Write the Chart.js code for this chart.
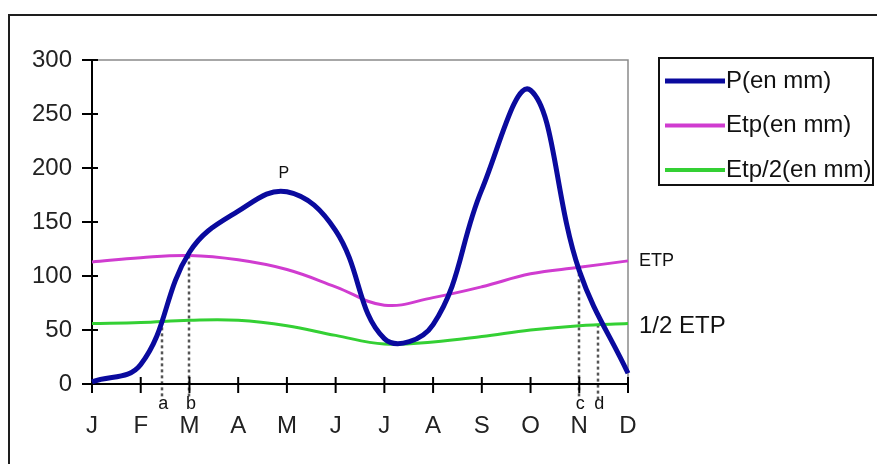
<!DOCTYPE html>
<html>
<head>
<meta charset="utf-8">
<script src="https://cdn.jsdelivr.net/npm/chart.js@4.4.1/dist/chart.umd.min.js"></script>
<style>
  html, body { margin: 0; padding: 0; background: #fff; }
  #wrap { width: 877px; height: 464px; }
</style>
</head>
<body>
<div id="wrap"><canvas id="graphe"></canvas></div>
<script>
// Données (mm)
const mois = ['J', 'F', 'M', 'A', 'M', 'J', 'J', 'A', 'S', 'O', 'N', 'D'];
const pluie = [2, 18, 122, 160, 178, 142, 42, 55, 180, 272, 105, 10];
const etp = [113, 117, 119, 115, 106, 90, 73, 80, 90, 102, 108, 114];
const demiEtp = [56, 57, 59, 59, 54, 45, 37, 39, 44, 50, 54, 56];
const graduationsY = [0, 50, 100, 150, 200, 250, 300];
const nomsSeries = ['P(en mm)', 'Etp(en mm)', 'Etp/2(en mm)'];
const moisEtiquetteP = 4; // le "P" est posé au-dessus du sommet de mai

// Repères a, b, c, d (position en mois, valeur du croisement)
const repereLettres = ['a', 'b', 'c', 'd'];
const repereMois = [1.43, 2, 9.99, 10.38];
const repereValeur = [58, 119, 108, 55];

const couleurs = ['#0a0a9e', '#d03cd0', '#34d034'];
const epaisseurs = [5, 3, 3];
const police = 'Liberation Sans, Arial, sans-serif';

const decor = {
  id: 'decor',
  beforeDatasetsDraw(chart) {
    const { ctx, chartArea: a, scales: { x, y } } = chart;
    const trait = (x1, y1, x2, y2) => { ctx.beginPath(); ctx.moveTo(x1, y1); ctx.lineTo(x2, y2); ctx.stroke(); };
    ctx.save();
    // cadre extérieur
    ctx.strokeStyle = '#1e1e1e'; ctx.lineWidth = 2;
    ctx.beginPath(); ctx.moveTo(9, 464); ctx.lineTo(9, 15); ctx.lineTo(877, 15); ctx.stroke();
    // bord gris de la zone de tracé
    ctx.strokeStyle = '#8a8a8a'; ctx.lineWidth = 1.5;
    ctx.beginPath(); ctx.moveTo(a.left, a.top); ctx.lineTo(a.right, a.top); ctx.lineTo(a.right, a.bottom); ctx.stroke();
    // pointillés verticaux
    ctx.strokeStyle = '#555'; ctx.lineWidth = 2.5; ctx.setLineDash([3, 3]);
    repereMois.forEach((m, i) => {
      const px = Math.round(x.getPixelForValue(m));
      trait(px, y.getPixelForValue(repereValeur[i]), px, a.bottom + 15);
    });
    ctx.setLineDash([]);
    // axes et graduations
    ctx.strokeStyle = '#000'; ctx.lineWidth = 2;
    ctx.beginPath(); ctx.moveTo(a.left, a.top); ctx.lineTo(a.left, a.bottom); ctx.lineTo(a.right, a.bottom); ctx.stroke();
    graduationsY.forEach(v => { const py = y.getPixelForValue(v); trait(a.left - 10, py, a.left + 6, py); });
    mois.forEach((m, i) => { const px = x.getPixelForValue(i); trait(px, a.bottom - 7, px, a.bottom + 9); });
    ctx.restore();
  },
  afterDraw(chart) {
    const { ctx, chartArea: a, scales: { x, y } } = chart;
    ctx.save();
    ctx.fillStyle = '#111';
    // lettres des repères
    ctx.font = '18px ' + police; ctx.textAlign = 'center'; ctx.textBaseline = 'alphabetic';
    repereLettres.forEach((l, i) => ctx.fillText(l, x.getPixelForValue(repereMois[i]) + 1.5, 409));
    // étiquettes des courbes
    ctx.font = '16px ' + police;
    ctx.fillText('P', x.getPixelForValue(moisEtiquetteP) - 3, y.getPixelForValue(pluie[moisEtiquetteP]) - 14);
    ctx.textAlign = 'left'; ctx.textBaseline = 'middle';
    ctx.font = '18px ' + police;
    ctx.fillText('ETP', a.right + 11, y.getPixelForValue(etp[etp.length - 1]));
    ctx.font = '24px ' + police;
    ctx.fillText('1/2 ETP', a.right + 11, y.getPixelForValue(demiEtp[demiEtp.length - 1]) + 3);
    // légende
    ctx.strokeStyle = '#111'; ctx.lineWidth = 2;
    ctx.strokeRect(659, 58, 214, 127);
    nomsSeries.forEach((n, i) => {
      const ly = 81 + i * 44.5;
      ctx.strokeStyle = couleurs[i]; ctx.lineWidth = i === 0 ? 5 : 4;
      ctx.beginPath(); ctx.moveTo(665, ly); ctx.lineTo(725, ly); ctx.stroke();
      ctx.fillText(n, 726, ly);
    });
    ctx.restore();
  }
};

const series = [pluie, etp, demiEtp];

new Chart(document.getElementById('graphe'), {
  type: 'line',
  data: {
    labels: mois,
    datasets: series.map((d, i) => ({
      label: nomsSeries[i],
      data: d,
      borderColor: couleurs[i],
      borderWidth: epaisseurs[i],
      pointRadius: 0,
      tension: 0.4,
      fill: false
    }))
  },
  options: {
    responsive: true,
    maintainAspectRatio: false,
    animation: false,
    layout: { padding: { left: 0, top: 60, right: 249, bottom: 0 } },
    plugins: { legend: { display: false }, tooltip: { enabled: false } },
    scales: {
      x: {
        offset: false,
        grid: { display: false, drawTicks: false },
        border: { display: false },
        ticks: { color: '#222', font: { family: police, size: 24 }, padding: 28, maxRotation: 0, autoSkip: false },
        afterFit: s => { s.height = 80; }
      },
      y: {
        min: 0, max: 300,
        grid: { display: false, drawTicks: false },
        border: { display: false },
        ticks: { stepSize: 50, color: '#222', font: { family: police, size: 24 }, padding: 20 },
        afterFit: s => { s.width = 92; }
      }
    }
  },
  plugins: [decor]
});
</script>
</body>
</html>
